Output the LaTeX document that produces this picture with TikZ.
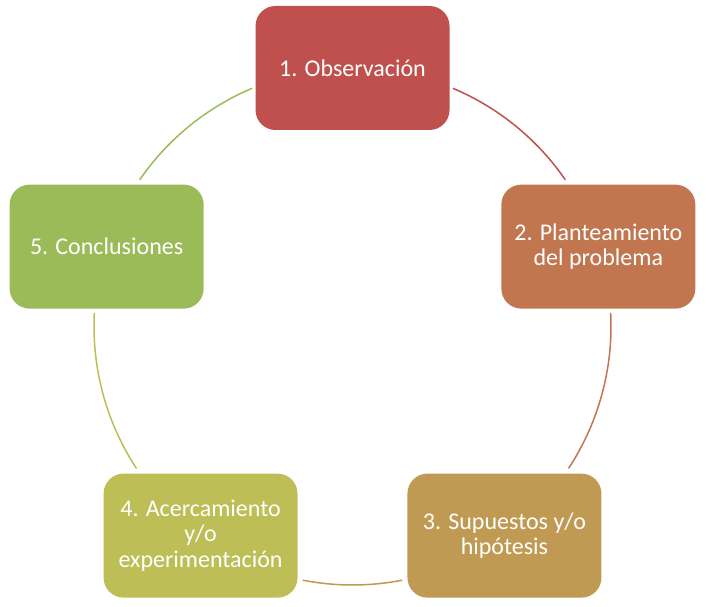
\documentclass[tikz,border=0pt]{standalone}
\usepackage{fontspec}
\setmainfont{Carlito}
\usetikzlibrary{calc}
\definecolor{stepred}{HTML}{C0504D}
\definecolor{steporange}{HTML}{C17650}
\definecolor{steptan}{HTML}{C09A52}
\definecolor{stepolive}{HTML}{BEBE56}
\definecolor{stepgreen}{HTML}{9BBB59}
\def\ringarc[#1](#2)(#3:#4:#5){\draw[#1] ($(#2)+(#3:#5)$) arc[start angle=#3, end angle=#4, radius=#5];}
\tikzset{
	stepbox/.style={rectangle, rounded corners=10pt, minimum width=97pt, minimum height=62pt,
		inner sep=0pt, align=center, text=white, font=\fontsize{12}{12.8}\selectfont},
	ring/.style={line width=0.75pt}
}

\begin{document}
\begin{tikzpicture}[x=0.5pt,y=0.5pt]
				\useasboundingbox (0,0) rectangle (706,606);
				\coordinate (c) at (352.5,279.5);
				
				\node[stepbox, fill=stepred] (obs) at ($(c)+(90:258.5)$) {1. Observación};
				\node[stepbox, fill=steporange] (plan) at ($(c)+(18:258.5)$) {2. Planteamiento\\del problema};
				\node[stepbox, fill=steptan] (hip) at ($(c)+(-54:258.5)$) {3. Supuestos y/o\\hipótesis};
				\node[stepbox, fill=stepolive] (exp) at ($(c)+(-126:258.5)$) {4. Acercamiento\\y/o\\experimentación};
				\node[stepbox, fill=stepgreen] (conc) at ($(c)+(162:258.5)$) {5. Conclusiones};
				
				\ringarc[ring, stepred](c)(67.15:34.6:258.5)
				\ringarc[ring, steporange](c)(3:-33.3:258.5)
				\ringarc[ring, steptan](c)(-78.9:-101.1:258.5)
				\ringarc[ring, stepolive](c)(-146.7:-183:258.5)
				\ringarc[ring, stepgreen](c)(145.4:112.85:258.5)
			\end{tikzpicture}
\end{document}
